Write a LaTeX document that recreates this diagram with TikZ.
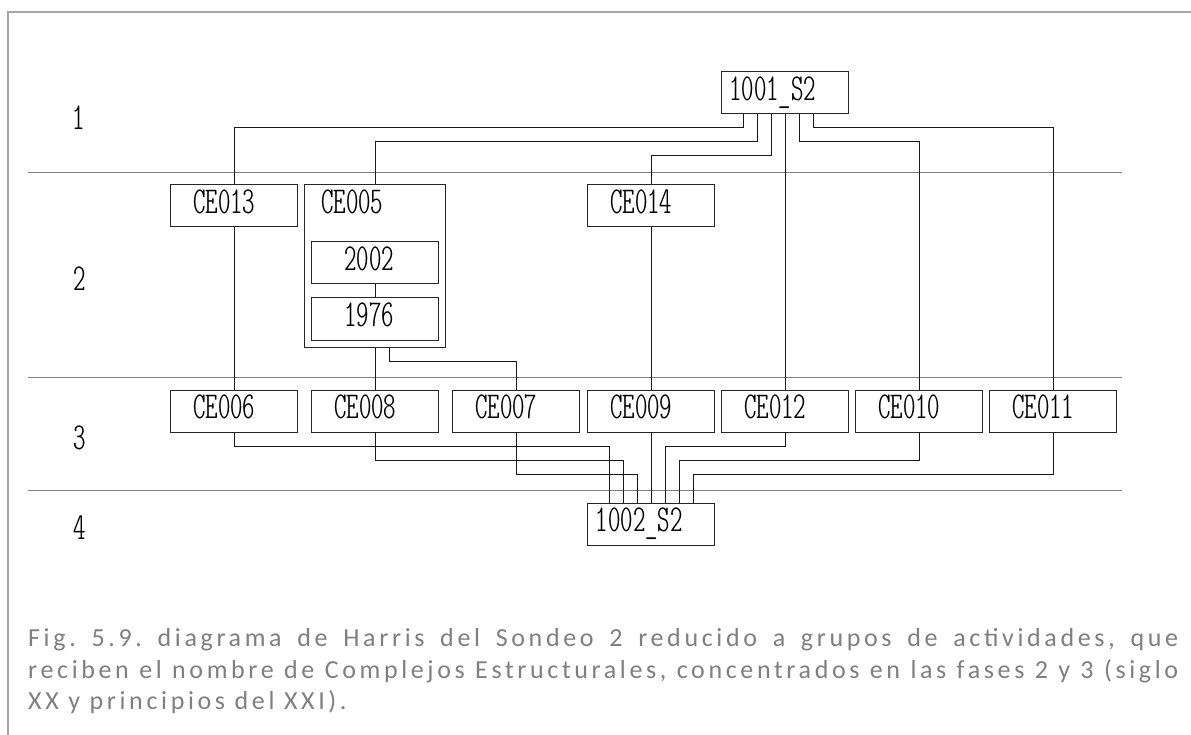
\documentclass[tikz,border=0pt]{standalone}
\usepackage{fontspec}
\usepackage{graphicx}
\usepackage{tikz}
\usetikzlibrary{positioning}
\newfontfamily\captionfont[LetterSpace=14]{Carlito}
\newfontfamily\cadmono{lmmonoltcond10-regular.otf}
\definecolor{capgray}{HTML}{7F7F7F}
\definecolor{framegray}{HTML}{A6A6A6}
\newcommand{\cadfont}{\cadmono\fontsize{38}{38}\selectfont}
\newcommand{\cad}[2][23pt]{\hspace*{#1}\scalebox{0.93}[1]{#2}}
\tikzset{%
    ce/.style={%
        draw=black!85, line width=0.8pt, anchor=north west,
        inner xsep=0pt, inner ysep=0pt, minimum height=42pt,
        text width=127pt, align=left, text height=29pt, text depth=13pt,
        font=\cadfont
    },
    link/.style={draw=black!90, line width=0.8pt},
    phaseline/.style={draw=black!50, line width=1.2pt},
    phase/.style={font=\cadfont},
    caption/.style={anchor=base west, inner sep=0pt, text=capgray,
        font=\captionfont\fontsize{26}{26}\selectfont\frenchspacing}
}

\begin{document}
\begin{tikzpicture}[x=1pt,y=-1pt]
    \useasboundingbox (0,0) rectangle (1191,735);
    \draw[framegray,line width=2pt] (7.5,735) -- (7.5,12) -- (1191,12);

	\draw[phaseline] (28,172.7) -- (1121.5,172.7);
	\draw[phaseline] (28,377.5) -- (1121.5,377.5);
	\draw[phaseline] (28,490.3) -- (1121.5,490.3);
    \node[phase] (ph1) at (79,117.5) {\scalebox{0.93}[1]{1}};
    \node[phase] (ph2) at (80,279) {\scalebox{0.93}[1]{2}};
    \node[phase] (ph3) at (80,438) {\scalebox{0.93}[1]{3}};
    \node[phase] (ph4) at (80,527.5) {\scalebox{0.93}[1]{4}};

    \node[ce] (s1) at (721,71) {\cad[8pt]{1001\_S2}};
    \node[ce] (ce013) at (170,184) {\cad{CE013}};
    \node[ce, text width=141pt, text depth=134pt] (ce005) at (304,184) {\cad[17pt]{CE005}};
    \node[ce] (y2002) at (311,241) {\cad[33pt]{2002}};
    \node[ce] (y1976) at (311,297.5) {\cad[33pt]{1976}};
    \node[ce] (ce014) at (587,184) {\cad{CE014}};

    \node[ce] (ce006) at (170,389.5) {\cad{CE006}};
    \node[ce] (ce008) at (311,389.5) {\cad{CE008}};
    \node[ce] (ce007) at (452,389.5) {\cad{CE007}};
    \node[ce] (ce009) at (587,389.5) {\cad{CE009}};
    \node[ce] (ce012) at (721,389.5) {\cad{CE012}};
    \node[ce] (ce010) at (855,389.5) {\cad{CE010}};
    \node[ce] (ce011) at (989,389.5) {\cad{CE011}};
    \node[ce] (s2) at (587,502.5) {\cad[8.5pt]{1002\_S2}};

    \draw[link] ([xshift=-42pt]s1.south) -- ++(0,14) -| (ce013.north);
    \draw[link] ([xshift=-28pt]s1.south) -- ++(0,28) -| (ce005.north);
    \draw[link] ([xshift=-14pt]s1.south) -- ++(0,42) -| (ce014.north);
    \draw[link] (s1.south) -- (ce012.north);
    \draw[link] ([xshift=14pt]s1.south) -- ++(0,28) -| (ce010.north);
    \draw[link] ([xshift=28pt]s1.south) -- ++(0,14) -| (ce011.north);

    \draw[link] (ce013.south) -- (ce006.north);
    \draw[link] (y2002.south) -- (y1976.north);
    \draw[link] (ce005.south) -- (ce008.north);
    \draw[link] ([xshift=14pt]ce005.south) -- ++(0,14) -| (ce007.north);
    \draw[link] (ce014.south) -- (ce009.north);

    \draw[link] (ce006.south) -- ++(0,14) -| ([xshift=-42pt]s2.north);
    \draw[link] (ce008.south) -- ++(0,28) -| ([xshift=-28pt]s2.north);
    \draw[link] (ce007.south) -- ++(0,42) -| ([xshift=-14pt]s2.north);
    \draw[link] (ce009.south) -- (s2.north);
    \draw[link] (ce012.south) -- ++(0,14) -| ([xshift=14pt]s2.north);
    \draw[link] (ce010.south) -- ++(0,28) -| ([xshift=28pt]s2.north);
    \draw[link] (ce011.south) -- ++(0,42) -| ([xshift=42pt]s2.north);

    % caption
    \node[caption] (cap1) at (28,646.7)
        {\makebox[1150pt][s]{Fig. 5.9. diagrama de Harris del Sondeo 2 reducido a grupos de actividades, que}};
    \node[caption] (cap2) at (28,678)
        {\makebox[1150pt][s]{reciben el nombre de Complejos Estructurales, concentrados en las fases 2 y 3 (siglo}};
    \node[caption] (cap3) at (28,709.3)
        {XX y principios del XXI).};
\end{tikzpicture}
\end{document}
